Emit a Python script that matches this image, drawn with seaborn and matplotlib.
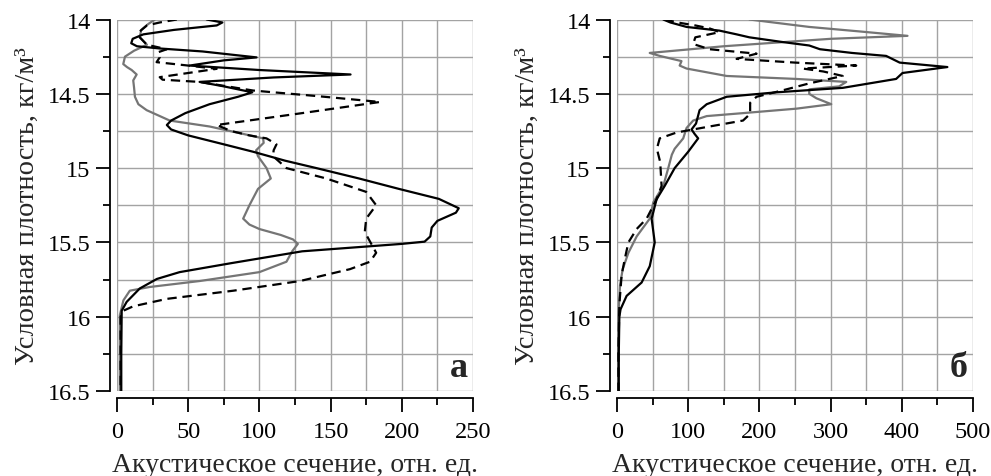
import numpy as np
import pandas as pd
import matplotlib
matplotlib.use("Agg")
import matplotlib.pyplot as plt
from matplotlib.ticker import MultipleLocator, FuncFormatter
import seaborn as sns

# ---------------- data ----------------
# Panel "а"
a_black_x = [63, 74, 70, 40, 18.5, 11, 10, 14, 30, 60, 98, 75, 51, 100, 164, 110, 58, 75, 95, 85, 65, 48, 38, 35,
             38, 50, 75, 95.6, 118, 140, 170, 198, 226, 240, 238, 225, 221, 220, 216, 200, 130, 80, 44, 28, 16,
             6.8, 3.3, 3, 3]
a_black_y = [14.0, 14.02, 14.04, 14.07, 14.1, 14.13, 14.16, 14.18, 14.195, 14.215, 14.255, 14.275, 14.31, 14.34,
             14.37, 14.39, 14.42, 14.45, 14.49, 14.52, 14.57, 14.63, 14.68, 14.71, 14.74, 14.78, 14.84, 14.89,
             14.95, 15.0, 15.07, 15.14, 15.207, 15.27, 15.30, 15.355, 15.4, 15.46, 15.495, 15.51, 15.56, 15.64,
             15.70, 15.746, 15.81, 15.90, 15.96, 16.25, 16.5]

a_dash_x = [42, 30, 21, 16, 16, 21, 35, 29, 30, 27.8, 50, 70, 50, 30, 32, 58, 95.6, 140, 184.7, 130, 70, 80, 93,
            105, 112, 110, 109.6, 119, 147, 175, 182, 175, 174, 178, 182, 177.7, 163.6, 128.5, 81.7, 35, 11.4,
            4.4, 2.5, 2.5, 2.5]
a_dash_y = [14.0, 14.02, 14.04, 14.08, 14.12, 14.17, 14.2, 14.22, 14.255, 14.287, 14.31, 14.332, 14.36, 14.388,
            14.405, 14.42, 14.478, 14.515, 14.555, 14.63, 14.71, 14.75, 14.78, 14.8, 14.84, 14.88, 14.92, 15.0,
            15.07, 15.16, 15.25, 15.34, 15.43, 15.5, 15.57, 15.63, 15.68, 15.76, 15.825, 15.88, 15.93, 15.96,
            16.0, 16.25, 16.5]

a_gray_x = [26.6, 22, 17, 16, 21, 12, 5.6, 4.4, 7, 10.3, 13.8, 11.4, 12, 12.6, 15, 20.8, 37, 65, 88.6, 102.6,
            103, 97.7, 99, 105, 108, 99, 93, 88.6, 93, 100, 115, 123.6, 127, 123, 119, 100, 58, 23, 9, 4.5, 2, 2, 2]
a_gray_y = [14.0, 14.03, 14.07, 14.12, 14.17, 14.21, 14.25, 14.3, 14.32, 14.34, 14.37, 14.41, 14.46, 14.52,
            14.57, 14.61, 14.68, 14.72, 14.77, 14.8, 14.83, 14.88, 14.92, 15.0, 15.07, 15.14, 15.25, 15.34,
            15.38, 15.41, 15.45, 15.48, 15.51, 15.56, 15.63, 15.70, 15.76, 15.80, 15.825, 15.89, 15.99, 16.25,
            16.5]

# Panel "б"
b_black_x = [65, 75, 97.7, 144, 168, 186, 230, 270, 285, 330, 378, 397, 464, 401, 392, 317, 224, 154, 126, 116,
             111, 104.7, 109, 114, 100, 81, 67, 55.6, 48.6, 53, 46, 34.6, 13.5, 5, 3.3, 2.5, 2.5]
b_black_y = [14.0, 14.02, 14.05, 14.075, 14.1, 14.12, 14.15, 14.175, 14.2, 14.225, 14.245, 14.29, 14.32, 14.36,
             14.4, 14.46, 14.49, 14.52, 14.57, 14.61, 14.7, 14.74, 14.77, 14.8, 14.89, 15.0, 15.12, 15.21,
             15.34, 15.5, 15.66, 15.77, 15.86, 15.95, 16.0, 16.25, 16.5]

b_dash_x = [67, 85, 110, 130, 144, 110, 107, 130, 196, 168, 250, 336, 261, 290, 317, 270, 230, 196, 187, 187,
            177, 130, 84, 60, 56, 60.7, 62.6, 55.6, 41.6, 27.6, 16, 11, 6.5, 3.3, 2, 2]
b_dash_y = [14.0, 14.02, 14.04, 14.06, 14.085, 14.12, 14.165, 14.2, 14.23, 14.265, 14.29, 14.31, 14.33, 14.35,
            14.38, 14.43, 14.48, 14.52, 14.56, 14.635, 14.68, 14.72, 14.76, 14.8, 14.87, 14.96, 15.12, 15.21,
            15.34, 15.41, 15.5, 15.61, 15.72, 15.92, 16.25, 16.5]

b_gray_x = [186, 270, 340, 408, 300, 150, 46, 60, 90.6, 88, 97.7, 154, 252, 322, 312, 270, 270, 280, 301, 252,
            177, 126, 107, 97.7, 93, 81, 77, 72, 65, 51, 46, 27.6, 16, 8, 4.2, 1.9, 1.5, 1.5]
b_gray_y = [14.0, 14.05, 14.08, 14.11, 14.13, 14.18, 14.225, 14.245, 14.28, 14.31, 14.33, 14.38, 14.40, 14.42,
            14.45, 14.47, 14.5, 14.53, 14.57, 14.6, 14.63, 14.65, 14.68, 14.73, 14.8, 14.87, 14.91, 15.0, 15.12,
            15.23, 15.34, 15.46, 15.57, 15.68, 15.79, 16.0, 16.25, 16.5]

panel_letters = ["а", "б"]
x_limits = [250, 500]
x_major = [50, 100]
x_label = "Акустическое сечение, отн. ед."
y_label = "Условная плотность, кг/м³"

# ---------------- style ----------------
sns.set_theme(style="ticks")
plt.rcParams["font.family"] = ["Liberation Serif", "DejaVu Serif"]

fig = plt.figure(figsize=(9.91, 4.77), dpi=100)
ax_a = fig.add_axes([117 / 991, 1 - 392 / 477, 356 / 991, 371.5 / 477])
ax_b = fig.add_axes([617 / 991, 1 - 392 / 477, 356 / 991, 371.5 / 477])

BLACK = "#000000"
GRAY = "#757575"
GRID = "#a3a3a3"
DASH = (0, (4.2, 2.6))

panels = [
    (ax_a, [(a_gray_x, a_gray_y, GRAY, "-"), (a_dash_x, a_dash_y, BLACK, DASH), (a_black_x, a_black_y, BLACK, "-")]),
    (ax_b, [(b_gray_x, b_gray_y, GRAY, "-"), (b_dash_x, b_dash_y, BLACK, DASH), (b_black_x, b_black_y, BLACK, "-")]),
]

for i, (ax, curves) in enumerate(panels):
    for xs, ys, col, ls in curves:
        df = pd.DataFrame({"x": xs, "y": ys})
        sns.lineplot(data=df, x="x", y="y", ax=ax, sort=False, estimator=None,
                     color=col, linestyle=ls, linewidth=1.6, zorder=3,
                     solid_joinstyle="round", dash_joinstyle="round")
    ax.set_xlim(0, x_limits[i])
    ax.set_ylim(16.5, 14)
    ax.xaxis.set_major_locator(MultipleLocator(x_major[i]))
    ax.xaxis.set_minor_locator(MultipleLocator(x_major[i] / 2))
    ax.yaxis.set_major_locator(MultipleLocator(0.5))
    ax.yaxis.set_minor_locator(MultipleLocator(0.25))
    ax.yaxis.set_major_formatter(FuncFormatter(lambda v, p: f"{v:g}"))
    ax.xaxis.set_major_formatter(FuncFormatter(lambda v, p: f"{v:g}"))
    ax.set_axisbelow(True)
    ax.grid(which="both", color=GRID, linewidth=1.0)
    for side in ["top", "right"]:
        ax.spines[side].set_visible(False)
    for side in ["left", "bottom"]:
        ax.spines[side].set_position(("outward", 5))
        ax.spines[side].set_linewidth(1.3)
        ax.spines[side].set_color("black")
    ax.tick_params(which="major", direction="out", length=10, width=1.3, colors="black",
                   labelsize=17.5, pad=4)
    ax.tick_params(axis="x", which="major", pad=6.5)
    ax.tick_params(which="minor", direction="out", length=5, width=1.3, colors="black")
    ax.set_xlabel(x_label, fontsize=20, labelpad=7)
    ax.set_ylabel(y_label, fontsize=20.5, labelpad=6)
    ax.text(0.985, 0.02, panel_letters[i], transform=ax.transAxes, ha="right", va="bottom",
            fontsize=26, fontweight="bold", zorder=5)
    ax.patch.set_facecolor("white")

fig.savefig("out.png", dpi=100, facecolor="white")
